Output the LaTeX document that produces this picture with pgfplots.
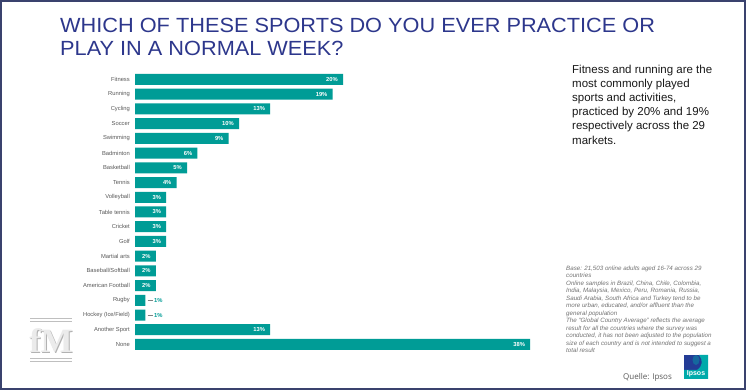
\documentclass[border=0pt]{standalone}
\usepackage{pgfplots}
\pgfplotsset{compat=1.18}
\usepackage{fontspec}
\setmainfont{Liberation Sans}
\newfontfamily\opensans{Open Sans}
\newfontfamily\serifb{Liberation Serif}
\definecolor{teal1}{RGB}{0,156,150}
\definecolor{titleblue}{RGB}{45,55,140}
\definecolor{framec}{RGB}{58,66,110}
\definecolor{lab}{RGB}{89,89,89}
\definecolor{ipsosblue}{RGB}{35,60,150}
\definecolor{ipsosteal}{RGB}{0,170,170}
\begin{document}
\begin{tikzpicture}[x=1pt,y=1pt]
\fill[white] (0,0) rectangle (748,390);
\draw[framec, line width=2pt] (1,1) rectangle (745,389);
% title
\node[anchor=base west, inner sep=0pt, text=titleblue, font=\fontsize{20.5}{24}\selectfont] at (60,357.7) {\scalebox{1.06}[1]{WHICH OF THESE SPORTS DO YOU EVER PRACTICE OR}};
\node[anchor=base west, inner sep=0pt, text=titleblue, font=\fontsize{20.5}{24}\selectfont] at (60,334.2) {\scalebox{1.06}[1]{PLAY IN A NORMAL WEEK?}};
% chart
\begin{axis}[at={(135pt,317.86pt)}, anchor=north west,
  x=10.4pt, y=14.72pt, xbar, bar width=11pt,
  xmin=0, xmax=38, ymin=-0.5, ymax=18.5, y dir=reverse,
  axis line style={draw=none}, xtick=\empty,
  ytick={0,...,18},
  yticklabels={Fitness,Running,Cycling,Soccer,Swimming,Badminton,Basketball,Tennis,Volleyball,Table tennis,Cricket,Golf,Martial arts,Baseball/Softball,American Football,Rugby,Hockey (Ice/Field),Another Sport,None},
  major tick length=0pt,
  yticklabel style={font=\fontsize{5.8}{7}\selectfont, text=lab, inner sep=0pt, xshift=-5pt},
  clip=false, point meta=x,
  /pgf/number format/assume math mode=true]
\addplot[fill=teal1, draw=none, bar shift=0pt,
  nodes near coords={\pgfmathprintnumber{\pgfplotspointmeta}\%},
  nodes near coords style={anchor=east, text=white, font=\bfseries\fontsize{5.8}{7}\selectfont, xshift=-5pt, inner sep=0pt}]
  coordinates {(20,0) (19,1) (13,2) (10,3) (9,4) (6,5) (5,6) (4,7) (3,8) (3,9) (3,10) (3,11) (2,12) (2,13) (2,14) (13,17) (38,18)};
\addplot[fill=teal1, draw=none, bar shift=0pt,
  nodes near coords={\textcolor{gray}{\rule[1.8pt]{5pt}{0.5pt}}\hspace{1.5pt}\pgfmathprintnumber{\pgfplotspointmeta}\%},
  nodes near coords style={anchor=west, text=teal1, font=\bfseries\fontsize{5.8}{7}\selectfont, xshift=2pt, inner sep=0pt}]
  coordinates {(1,15) (1,16)};
\end{axis}
% right text
\foreach \t [count=\i from 0] in {Fitness and running are the, most commonly played, {sports and activities,}, practiced by 20\% and 19\%, respectively across the 29, markets.}{
  \node[anchor=base west, inner sep=0pt, text=black!90, font=\fontsize{11.5}{14}\selectfont] at (572,316.8-14.2*\i) {\t};
}
% footnote
\foreach \t [count=\i from 0] in {Base: 21{,}503 online adults aged 16-74 across 29, countries, {Online samples in Brazil, China, Chile, Colombia,}, {India, Malaysia, Mexico, Peru, Romania, Russia,}, Saudi Arabia{,} South Africa and Turkey tend to be, more urban{,} educated{,} and/or affluent than the, general population, The “Global Country Average” reflects the average, result for all the countries where the survey was, conducted{,} it has not been adjusted to the population, size of each country and is not intended to suggest a, total result}{
  \node[anchor=base west, inner sep=0pt, text=black!55, font=\itshape\fontsize{6.2}{7.5}\selectfont] at (566,119.5-7.5*\i) {\t};
}
% source
\node[anchor=base west, inner sep=0pt, text=black!65, font=\opensans\fontsize{8}{9}\selectfont] at (623,10) {Quelle: Ipsos};
% Ipsos logo
\fill[ipsosblue] (684,11) rectangle (708,35);
\fill[ipsosteal] (708,35) -- (699,35) .. controls (703,30) and (703,24) .. (697,20) -- (684,20) -- (684,11) -- (708,11) -- cycle;
\fill[ipsosblue!60!ipsosteal] (696,30) ellipse (3.5 and 5);
\node[text=white, font=\bfseries\fontsize{7}{8}\selectfont, inner sep=0pt] at (696,16) {Ipsos};
% fM logo
\draw[black!25, line width=1pt] (30,71) -- (72,71) (30,68) -- (72,68) (30,31) -- (72,31) (30,28) -- (72,28);
\node[text=black!30, font=\serifb\bfseries\fontsize{34}{34}\selectfont, inner sep=0pt] at (52,48.5) {fM};
\node[text=black!8, font=\serifb\bfseries\fontsize{34}{34}\selectfont, inner sep=0pt] at (51,49.5) {fM};
\end{tikzpicture}
\end{document}
